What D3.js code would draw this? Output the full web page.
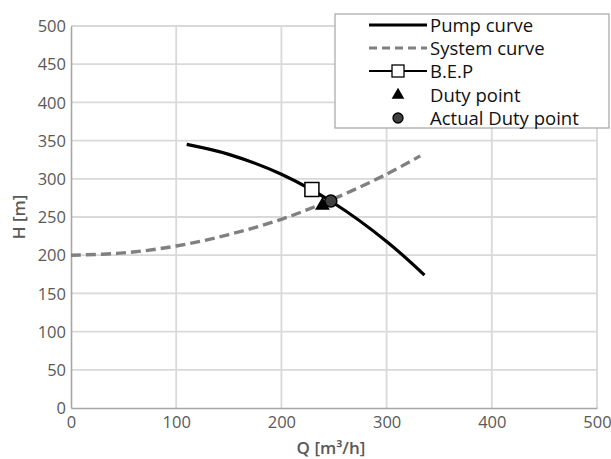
<!DOCTYPE html>
<html><head><meta charset="utf-8">
<script src="https://cdn.jsdelivr.net/npm/d3@7"></script>
<style>body{margin:0;background:#fff}text{font-family:"Open Sans",sans-serif}</style>
</head><body><svg id="c" width="611" height="459"></svg>
<script>
const xTicks = [0,100,200,300,400,500];
const yTicks = [0,50,100,150,200,250,300,350,400,450,500];
const pumpQ = [110,150,200,250,300,336];
const pumpH = [345,332,306,268,218,174];
const sysQ = [0,50,100,150,200,250,300,332];
const sysH = [200,203,212,227,247,274,306,330];
const bep = [229,286];
const duty = [239,265];
const actual = [247,271];
const legendLabels = ["Pump curve","System curve","B.E.P","Duty point","Actual Duty point"];

const svg = d3.select("#c");
const x = d3.scaleLinear().domain([0,500]).range([71,597]);
const y = d3.scaleLinear().domain([0,500]).range([408,26]);
const grey = "#595959";

svg.append("g").selectAll("line").data(yTicks.slice(1)).join("line")
  .attr("x1",x(0)).attr("x2",x(500)).attr("y1",d=>y(d)).attr("y2",d=>y(d))
  .attr("stroke","#d9d9d9").attr("stroke-width",1.8);
svg.append("g").selectAll("line").data(xTicks.slice(1)).join("line")
  .attr("y1",y(0)).attr("y2",y(500)).attr("x1",d=>x(d)).attr("x2",d=>x(d))
  .attr("stroke","#d9d9d9").attr("stroke-width",1.8);

const xa = svg.append("g").attr("transform",`translate(0,${y(0)})`)
  .call(d3.axisBottom(x).tickValues(xTicks).tickSize(0).tickPadding(6));
const ya = svg.append("g").attr("transform",`translate(${x(0)},0)`)
  .call(d3.axisLeft(y).tickValues(yTicks).tickSize(0).tickPadding(5));
[xa,ya].forEach(a=>{
  a.select(".domain").attr("stroke","#a6a6a6").attr("stroke-width",1.6);
  a.selectAll("text").attr("fill",grey).style("font-size","16.5px").style("font-family","Open Sans");
});
xa.selectAll("text").attr("dy","0.85em");
ya.selectAll("text").attr("dy","0.35em");

svg.append("text").attr("x",331).attr("y",454).attr("text-anchor","middle")
  .attr("fill",grey).style("font-size","17px").style("font-weight","600").text("Q [m³/h]");
svg.append("text").attr("transform","translate(25,217) rotate(-90)").attr("text-anchor","middle")
  .attr("fill",grey).style("font-size","17px").style("font-weight","600").text("H [m]");

const line = d3.line().x(d=>x(d[0])).y(d=>y(d[1])).curve(d3.curveCatmullRom);
svg.append("path").datum(sysQ.map((q,i)=>[q,sysH[i]])).attr("d",line)
  .attr("fill","none").attr("stroke","#808080").attr("stroke-width",3.4).attr("stroke-dasharray","10,5");
svg.append("path").datum(pumpQ.map((q,i)=>[q,pumpH[i]])).attr("d",line)
  .attr("fill","none").attr("stroke","#000").attr("stroke-width",3.2);

svg.append("rect").attr("x",x(bep[0])-7).attr("y",y(bep[1])-7).attr("width",14).attr("height",14)
  .attr("fill","#fff").attr("stroke","#000").attr("stroke-width",1.5);
svg.append("path").attr("d",d3.symbol(d3.symbolTriangle,95)())
  .attr("transform",`translate(${x(duty[0])},${y(duty[1])})`).attr("fill","#000");
svg.append("circle").attr("cx",x(actual[0])).attr("cy",y(actual[1])).attr("r",6)
  .attr("fill","#404040").attr("stroke","#000").attr("stroke-width",1.5);

const lg = svg.append("g");
lg.append("rect").attr("x",335).attr("y",14).attr("width",274).attr("height",114)
  .attr("fill","#fff").attr("stroke","#a6a6a6").attr("stroke-width",1.2);
const rowY = [25,48,71,95,118];
legendLabels.forEach((t,i)=>{
  lg.append("text").attr("x",430).attr("y",rowY[i]).attr("dy","0.36em")
    .attr("fill","#111").style("font-size","18.5px").text(t);
});
lg.append("line").attr("x1",369).attr("x2",427).attr("y1",rowY[0]).attr("y2",rowY[0]).attr("stroke","#000").attr("stroke-width",3);
lg.append("line").attr("x1",369).attr("x2",427).attr("y1",rowY[1]).attr("y2",rowY[1]).attr("stroke","#808080").attr("stroke-width",3.2).attr("stroke-dasharray","8,5");
lg.append("line").attr("x1",369).attr("x2",427).attr("y1",rowY[2]).attr("y2",rowY[2]).attr("stroke","#000").attr("stroke-width",1.8);
lg.append("rect").attr("x",392).attr("y",rowY[2]-6).attr("width",12).attr("height",12).attr("fill","#fff").attr("stroke","#000").attr("stroke-width",1.3);
lg.append("path").attr("d",d3.symbol(d3.symbolTriangle,70)()).attr("transform",`translate(398,${rowY[3]})`).attr("fill","#000");
lg.append("circle").attr("cx",398).attr("cy",rowY[4]).attr("r",5).attr("fill","#404040").attr("stroke","#000").attr("stroke-width",1.3);
</script></body></html>
